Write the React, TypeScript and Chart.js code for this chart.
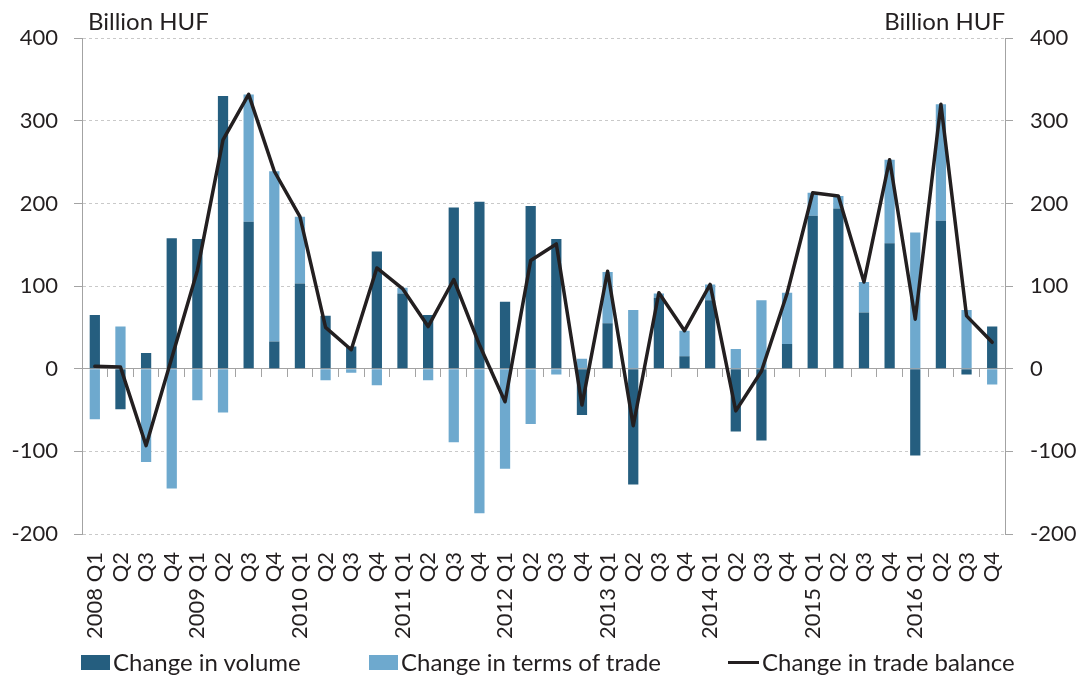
import React, { useEffect, useRef } from "react";
import { Chart, registerables } from "chart.js";

Chart.register(...registerables);

const quarterLabels = [
  "2008 Q1", "Q2", "Q3", "Q4",
  "2009 Q1", "Q2", "Q3", "Q4",
  "2010 Q1", "Q2", "Q3", "Q4",
  "2011 Q1", "Q2", "Q3", "Q4",
  "2012 Q1", "Q2", "Q3", "Q4",
  "2013 Q1", "Q2", "Q3", "Q4",
  "2014 Q1", "Q2", "Q3", "Q4",
  "2015 Q1", "Q2", "Q3", "Q4",
  "2016 Q1", "Q2", "Q3", "Q4",
];

const volumeChange = [
  65, -49, 19, 158, 157, 330, 178, 33, 103, 64, 27, 142,
  91, 65, 195, 202, 81, 197, 157, -56, 55, -140, 86, 15,
  83, -76, -87, 30, 185, 194, 68, 152, -105, 179, -7, 51,
];

const termsOfTradeChange = [
  -61, 51, -113, -145, -38, -53, 154, 206, 81, -14, -5, -20,
  7, -14, -89, -175, -121, -67, -7, 12, 62, 71, 5, 31,
  19, 24, 83, 62, 28, 15, 37, 101, 165, 141, 71, -19,
];

const tradeBalanceChange = [
  3, 2, -93, 13, 119, 277, 332, 239, 184, 50, 23, 122,
  97, 51, 108, 29, -40, 131, 151, -44, 118, -69, 92, 46,
  102, -51, -3, 91, 213, 209, 105, 253, 60, 320, 64, 32,
];

const seriesNames = ["Change in volume", "Change in terms of trade", "Change in trade balance"];
const axisTitle = "Billion HUF";
const yMin = -200;
const yMax = 400;
const yStep = 100;

const DARK = "#255E7F";
const LIGHT = "#6EA9CE";
const LINE = "#231F20";
const TEXT = "#231F20";
const AXIS = "#A3A3A3";
const GRID = "#C9C9C9";
const FONT = "Lato, 'Open Sans', sans-serif";

const titlePlugin = {
  id: "cornerTitles",
  afterDraw(chart: any) {
    const { ctx, chartArea } = chart;
    ctx.save();
    ctx.font = `24px ${FONT}`;
    ctx.fillStyle = TEXT;
    ctx.textBaseline = "alphabetic";
    ctx.textAlign = "left";
    ctx.fillText(axisTitle, chartArea.left + 6, chartArea.top - 8);
    ctx.textAlign = "right";
    ctx.fillText(axisTitle, chartArea.right, chartArea.top - 8);
    ctx.restore();
  },
};

export default function App() {
  const canvasRef = useRef<HTMLCanvasElement | null>(null);

  useEffect(() => {
    if (!canvasRef.current) return;
    const chart = new Chart(canvasRef.current, {
      type: "bar",
      data: {
        labels: quarterLabels,
        datasets: [
          {
            type: "bar",
            label: seriesNames[0],
            data: volumeChange,
            backgroundColor: DARK,
            stack: "bars",
            order: 2,
            barPercentage: 0.4,
            categoryPercentage: 1,
          },
          {
            type: "bar",
            label: seriesNames[1],
            data: termsOfTradeChange,
            backgroundColor: LIGHT,
            stack: "bars",
            order: 2,
            barPercentage: 0.4,
            categoryPercentage: 1,
          },
          {
            type: "line",
            label: seriesNames[2],
            data: tradeBalanceChange,
            borderColor: LINE,
            backgroundColor: LINE,
            borderWidth: 3.5,
            borderJoinStyle: "round",
            borderCapStyle: "round",
            pointRadius: 0,
            tension: 0,
            fill: false,
            stack: "line",
            order: 0,
          } as any,
        ],
      },
      options: {
        animation: false,
        responsive: true,
        maintainAspectRatio: false,
        layout: { padding: { top: 27, left: 0, right: 0, bottom: 0 } },
        plugins: {
          legend: { display: false },
          tooltip: { enabled: false },
          title: { display: false },
        },
        scales: {
          x: {
            type: "category",
            position: "bottom",
            stacked: true,
            offset: true,
            grid: { display: false, drawTicks: false },
            border: { display: false },
            ticks: {
              autoSkip: false,
              minRotation: 90,
              maxRotation: 90,
              padding: 18,
              color: TEXT,
              font: { family: FONT, size: 22 },
            },
            afterFit: (scale: any) => {
              scale.height = 114;
            },
          },
          x0: {
            type: "category",
            position: { y: 0 } as any,
            offset: true,
            grid: {
              offset: true,
              drawOnChartArea: false,
              drawTicks: true,
              tickLength: 8,
              tickColor: AXIS,
            },
            border: { display: true, color: AXIS, width: 1 },
            ticks: { display: false },
          } as any,
          y: {
            type: "linear",
            position: "left",
            stacked: true,
            min: yMin,
            max: yMax,
            ticks: {
              stepSize: yStep,
              padding: 16,
              color: TEXT,
              font: { family: FONT, size: 22 },
            },
            grid: {
              color: GRID,
              drawTicks: true,
              tickLength: 8,
              tickColor: AXIS,
              tickBorderDash: [],
            } as any,
            border: { display: true, color: AXIS, width: 1, dash: [3, 3] },
            afterFit: (scale: any) => {
              scale.width = 74;
            },
          },
          y1: {
            type: "linear",
            position: "right",
            min: yMin,
            max: yMax,
            ticks: {
              stepSize: yStep,
              padding: 17,
              color: TEXT,
              font: { family: FONT, size: 22 },
            },
            grid: {
              drawOnChartArea: false,
              drawTicks: true,
              tickLength: 8,
              tickColor: AXIS,
            },
            border: { display: true, color: AXIS, width: 1 },
            afterFit: (scale: any) => {
              scale.width = 72;
            },
          },
        },
      },
      plugins: [titlePlugin],
    });
    return () => chart.destroy();
  }, []);

  const legendText: React.CSSProperties = {
    fontFamily: FONT,
    fontSize: 24,
    lineHeight: "22px",
    color: TEXT,
    whiteSpace: "nowrap",
  };
  const item: React.CSSProperties = {
    position: "absolute",
    top: 643,
    height: 22,
    display: "flex",
    alignItems: "center",
  };

  return (
    <div style={{ position: "relative", width: 1069, height: 668 }}>
      <div style={{ position: "absolute", left: 0, top: 0, width: 1069, height: 640 }}>
        <canvas ref={canvasRef} />
      </div>
      <div style={{ ...item, left: 73 }}>
        <span style={{ display: "inline-block", width: 29, height: 15, background: DARK, marginRight: 3 }} />
        <span style={legendText}>{seriesNames[0]}</span>
      </div>
      <div style={{ ...item, left: 361 }}>
        <span style={{ display: "inline-block", width: 29, height: 15, background: LIGHT, marginRight: 3 }} />
        <span style={legendText}>{seriesNames[1]}</span>
      </div>
      <div style={{ ...item, left: 720 }}>
        <span style={{ display: "inline-block", width: 31, height: 3, background: LINE, marginRight: 3 }} />
        <span style={legendText}>{seriesNames[2]}</span>
      </div>
    </div>
  );
}
